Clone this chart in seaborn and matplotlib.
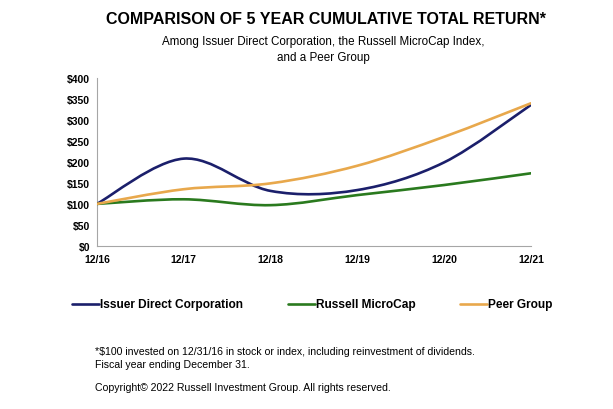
import matplotlib
matplotlib.use("Agg")
import matplotlib.pyplot as plt
import seaborn as sns
import pandas as pd
import numpy as np
from matplotlib.path import Path
from matplotlib.patches import PathPatch
from matplotlib.lines import Line2D

years = ["12/16", "12/17", "12/18", "12/19", "12/20", "12/21"]
issuer = [100, 208, 131, 133, 199, 336]
russell = [100, 111, 97, 121, 145, 173]
peer = [100, 135, 149, 191, 260, 340]
series_names = ["Issuer Direct Corporation", "Russell MicroCap", "Peer Group"]
yticks = [0, 50, 100, 150, 200, 250, 300, 350, 400]

colors = {"Issuer Direct Corporation": "#1B1F6B",
          "Russell MicroCap": "#2A7A1E",
          "Peer Group": "#E8A84C"}

sns.set_style("white")
plt.rcParams["font.family"] = ["Liberation Sans", "DejaVu Sans"]
plt.rcParams["text.color"] = "black"
plt.rcParams["xtick.labelcolor"] = "black"
plt.rcParams["ytick.labelcolor"] = "black"

df = pd.DataFrame({
    "x": list(range(len(years))) * 3,
    "value": issuer + russell + peer,
    "series": sum([[n] * len(years) for n in series_names], []),
})

fig = plt.figure(figsize=(6.13, 4.10), dpi=100)
ax = fig.add_axes([0.158, 0.398, 0.708, 0.409])
sns.lineplot(data=df, x="x", y="value", hue="series", palette=colors,
             ax=ax, legend=False, linewidth=1.8)

# Replace straight segments with smoothed (Catmull-Rom Bezier) curves, like Excel's smooth line
for line in list(ax.lines):
    xs, ys = line.get_xdata(), line.get_ydata()
    col = line.get_color()
    line.set_visible(False)
    pts = np.column_stack([xs, ys]).astype(float)
    n = len(pts)
    verts = [tuple(pts[0])]
    codes = [Path.MOVETO]
    for i in range(n - 1):
        p_prev = pts[i - 1] if i > 0 else pts[i]
        p_next2 = pts[i + 2] if i + 2 < n else pts[i + 1]
        c1 = pts[i] + (pts[i + 1] - p_prev) / 6.0
        c2 = pts[i + 1] - (p_next2 - pts[i]) / 6.0
        verts += [tuple(c1), tuple(c2), tuple(pts[i + 1])]
        codes += [Path.CURVE4] * 3
    ax.add_patch(PathPatch(Path(verts, codes), facecolor="none", edgecolor=col,
                           lw=1.9, capstyle="round", joinstyle="round", zorder=3))

ax.set_xlim(0, len(years) - 1)
ax.set_ylim(0, 400)
ax.set_xticks(range(len(years)))
ax.set_xticklabels(years, fontsize=7.5, fontweight="bold", color="black")
ax.set_yticks(yticks)
ax.set_yticklabels([f"${v}" for v in yticks], fontsize=7.5, fontweight="bold",
                   color="black")
ax.set_xlabel("")
ax.set_ylabel("")
for s in ["top", "right"]:
    ax.spines[s].set_visible(False)
for s in ["left", "bottom"]:
    ax.spines[s].set_color("#A6A6A6")
    ax.spines[s].set_linewidth(0.8)
ax.tick_params(axis="y", length=2, width=0.6, color="#A6A6A6", pad=3)
ax.tick_params(axis="x", direction="in", length=3, width=0.6, color="#A6A6A6", pad=6)

fig.text(0.532, 1 - 20 / 410, "COMPARISON OF 5 YEAR CUMULATIVE TOTAL RETURN*",
         ha="center", va="center", fontsize=11.5, fontweight="bold", color="black")
fig.text(0.527, 1 - 42.5 / 410,
         "Among Issuer Direct Corporation, the Russell MicroCap Index,",
         ha="center", va="center", fontsize=8.4, color="black")
fig.text(0.527, 1 - 58 / 410, "and a Peer Group",
         ha="center", va="center", fontsize=8.4, color="black")

leg_x = [72, 288, 460]
for n, lx in zip(series_names, leg_x):
    fx = lx / 613
    fy = 1 - 305 / 410
    fig.lines.append(Line2D([fx, fx + 27 / 613], [fy, fy], color=colors[n], lw=1.9,
                            transform=fig.transFigure))
    fig.text(fx + 28 / 613, fy, n, ha="left", va="center", fontsize=8.6,
             fontweight="bold", color="black")

fig.text(95 / 613, 1 - 352 / 410,
         "*$100 invested on 12/31/16 in stock or index, including reinvestment of dividends.",
         ha="left", va="center", fontsize=7.6, color="black")
fig.text(95 / 613, 1 - 365 / 410, "Fiscal year ending December 31.",
         ha="left", va="center", fontsize=7.6, color="black")
fig.text(95 / 613, 1 - 388 / 410,
         "Copyright\u00a9 2022 Russell Investment Group. All rights reserved.",
         ha="left", va="center", fontsize=7.6, color="black")

fig.savefig("out.png", dpi=100, facecolor="white")
